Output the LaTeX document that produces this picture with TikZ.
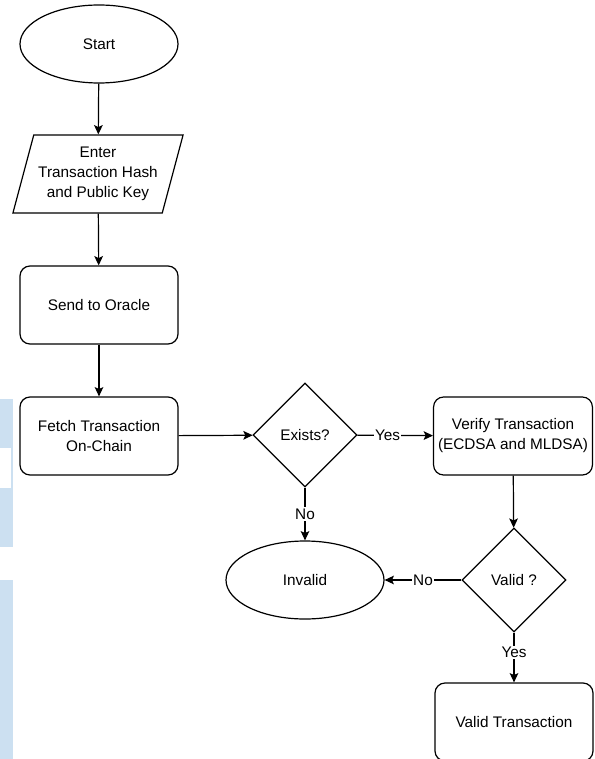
\documentclass[tikz,border=0pt]{standalone}
\usepackage{fontspec}
\setmainfont{Liberation Sans}
\usetikzlibrary{shapes.geometric,arrows.meta}
\definecolor{stripblue}{RGB}{204,224,241}

\begin{document}
\begin{tikzpicture}
  [x=0.75pt,y=-0.75pt,
   every node/.style={font=\fontsize{11.5}{15}\selectfont},
   terminal/.style={ellipse,draw,line width=0.9pt,
                    minimum width=118.5pt,minimum height=58.5pt},
   process/.style={rectangle,rounded corners=7.5pt,draw,line width=0.9pt,
                   minimum width=118.5pt,minimum height=58.5pt,align=center},
   io/.style={trapezium,trapezium left angle=71.6,trapezium right angle=108.4,
              trapezium stretches=true,draw,line width=0.9pt,
              minimum width=127.5pt,minimum height=58.5pt,align=center},
   decision/.style={diamond,draw,line width=0.9pt,inner sep=0pt,
                    minimum width=78pt,minimum height=78pt},
   flow/.style={-{Stealth[length=7pt,width=6.5pt,inset=1.5pt]},line width=0.9pt},
   answer/.style={fill=white,inner sep=1pt}]
  \useasboundingbox (0,0) rectangle (595,759);
  \fill[white] (0,0) rectangle (595,759);
  % strips at the left edge
  \fill[stripblue] (0,399) rectangle (13,547);
  \fill[white] (0,448) rectangle (11,488);
  \fill[stripblue] (0,580) rectangle (13,759);

  \node (start)   at ( 99, 44) [terminal] {Start};
  \node (input)   at ( 98,174) [io] {Enter\\Transaction Hash\\and Public Key};
  \node (oracle)  at ( 99,305) [process] {Send to Oracle};
  \node (fetch)   at ( 99,436) [process] {Fetch Transaction\\On-Chain};
  \node (exists)  at (305,435) [decision] {Exists?};
  \node (verify)  at (513,436) [process] {Verify Transaction\\(ECDSA and MLDSA)};
  \node (valid)   at (514,580) [decision] {Valid ?};
  \node (invalid) at (305,580) [terminal] {Invalid};
  \node (final)   at (514,722) [process] {Valid Transaction};

  \draw[flow] (start) -- (input);
  \draw[flow] (input) -- (oracle);
  \draw[flow] (oracle) -- (fetch);
  \draw[flow] (fetch) -- (exists);
  \draw[flow] (exists) -- node[answer,pos=0.4] {Yes} (verify);
  \draw[flow] (exists) -- node[answer] {No} (invalid);
  \draw[flow] (verify) -- (valid);
  \draw[flow] (valid) -- node[answer] {No} (invalid);
  \draw[flow] (valid) -- node[answer,pos=0.4] {Yes} (final);
\end{tikzpicture}
\end{document}
